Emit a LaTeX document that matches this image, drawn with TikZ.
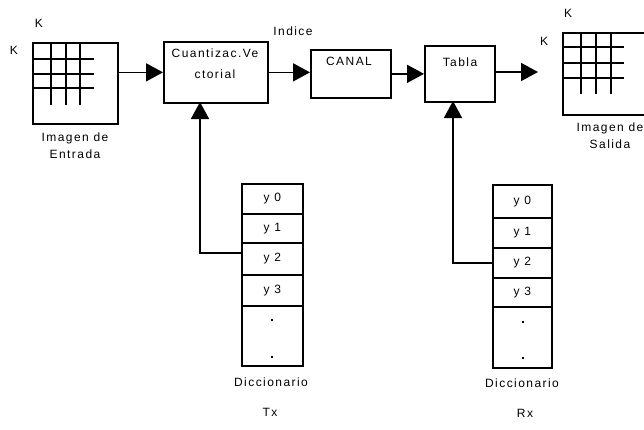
\documentclass[tikz,border=0pt]{standalone}
\usepackage{fontspec}
\setmainfont{Liberation Sans}[LetterSpace=12]
\usetikzlibrary{arrows.meta}
\begin{document}
\begin{tikzpicture}[x=1pt,y=-1pt,
  box/.style={draw, line width=1.7pt, inner sep=0pt, anchor=north west,
    font=\fontsize{12}{14}\selectfont},
  lbl/.style={font=\fontsize{12}{17}\selectfont, inner sep=0pt, align=center},
  arr/.style={line width=1.7pt, -{Triangle[length=17pt,width=18pt]}},
  gridln/.style={line width=1.7pt},
  dotsq/.style={fill, minimum size=2.6pt, inner sep=0pt}
]
\useasboundingbox (0,0) rectangle (644,429);

% input image with its K x K grid
\node[box, minimum width=85pt, minimum height=81pt] (inimg) at (32,42) {};
\foreach \x in {51,66,80} \draw[gridln] (\x,42) -- (\x,105);
\foreach \y in {59,74,88} \draw[gridln] (32,\y) -- (94,\y);
\node[lbl] (kin1) at (39,23) {K};
\node[lbl] (kin2) at (14,50) {K};
\node[lbl] (inlbl) at (75,145.5) {Imagen de\\Entrada};

% processing chain
\node[box, minimum width=104pt, minimum height=61pt] (cv) at (163,41) {};
\node[lbl, font=\fontsize{12}{21}\selectfont] (cvtxt) at (215,63.5) {Cuantizac.Ve\\ctorial};
\node[lbl] (indice) at (293,31) {Indice};
\node[box, minimum width=80pt, minimum height=48pt] (canal) at (310,49) {};
\node[lbl] (canaltxt) at (349,61) {CANAL};
\node[box, minimum width=70pt, minimum height=56pt] (tab) at (424,45) {};
\node[lbl] (tabtxt) at (460,62) {Tabla};

\coordinate (outarr) at (538,72);
\draw[arr] (cv.west -| inimg.east) -- (cv.west);
\draw[arr] (cv.east) -- (cv.east -| canal.west);
\draw[arr] (canal.east) -- (tab.west);
\draw[arr] (tab.east |- outarr) -- (outarr);

% output image with its K x K grid
\node[box, minimum width=90pt, minimum height=82pt] (outimg) at (562,32) {};
\foreach \x in {581,596,611} \draw[gridln] (\x,32) -- (\x,94);
\foreach \y in {47,63,78} \draw[gridln] (562,\y) -- (624,\y);
\node[lbl] (kout1) at (568,13) {K};
\node[lbl] (kout2) at (544,41) {K};
\node[lbl] (outlbl) at (610,135.5) {Imagen de\\Salida};

% transmitter codebook
\node[box, minimum width=61pt, minimum height=30pt] (t0) at (241,183) {y 0};
\node[box, minimum width=61pt, minimum height=29pt] (t1) at (241,213) {y 1};
\node[box, minimum width=61pt, minimum height=32pt] (t2) at (241,242) {y 2};
\node[box, minimum width=61pt, minimum height=31pt] (t3) at (241,274) {y 3};
\node[box, minimum width=61pt, minimum height=60pt] (t4) at (241,305) {};
\node[dotsq] (td1) at (272,320) {};
\node[dotsq] (td2) at (272,357) {};
\node[lbl] (tdic) at (271,382) {Diccionario};
\node[lbl] (txl) at (270,412) {Tx};

% receiver codebook
\node[box, minimum width=59pt, minimum height=33pt] (r0) at (492,184) {y 0};
\node[box, minimum width=59pt, minimum height=30pt] (r1) at (492,217) {y 1};
\node[box, minimum width=59pt, minimum height=30pt] (r2) at (492,247) {y 2};
\node[box, minimum width=59pt, minimum height=29pt] (r3) at (492,277) {y 3};
\node[box, minimum width=59pt, minimum height=61pt] (r4) at (492,306) {};
\node[dotsq] (rd1) at (523,322) {};
\node[dotsq] (rd2) at (523,358) {};
\node[lbl] (rdic) at (522,383) {Diccionario};
\node[lbl] (rxl) at (525,413) {Rx};

% codebook feeds
\coordinate (cvin) at (200,102);
\coordinate (tabin) at (453,101);
\draw[arr] ([yshift=6pt]t2.west) -| (cvin);
\draw[arr] (r2.west) -| (tabin);
\end{tikzpicture}
\end{document}
